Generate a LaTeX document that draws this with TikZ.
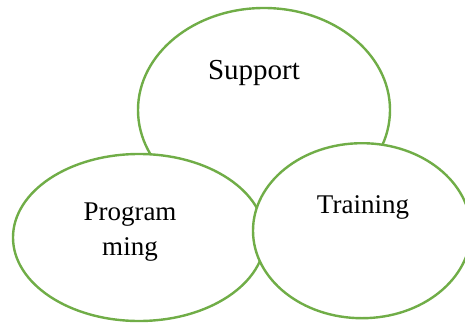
\documentclass[tikz,border=0pt]{standalone}
\usepackage{fontspec}
\setmainfont{Liberation Serif}
\usetikzlibrary{shapes.geometric}
\definecolor{leaf}{HTML}{70AD47}

\begin{document}
\begin{tikzpicture}[x=1pt,y=-1pt,line width=2.4pt,
  blob/.style={ellipse,draw=leaf,fill=white,inner sep=0pt},
  tag/.style={font=\fontsize{27}{35}\selectfont,text=black,align=center}]
  \clip (0,0) rectangle (465,324);
  % back to front: support, programming, training
  \node[blob,minimum width=252pt,minimum height=204pt] (support) at (264,110) {};
  \node[blob,minimum width=252pt,minimum height=167pt] (prog) at (139,237.5) {};
  \node[blob,minimum width=218pt,minimum height=175pt] (train) at (362,230.7) {};
  \node[tag,font=\fontsize{29}{35}\selectfont] (supportlbl) at (254,73) {Support};
  \node[tag] (proglbl) at (130,232) {Program\\ming};
  \node[tag] (trainlbl) at (363,207) {Training};
\end{tikzpicture}
\end{document}
